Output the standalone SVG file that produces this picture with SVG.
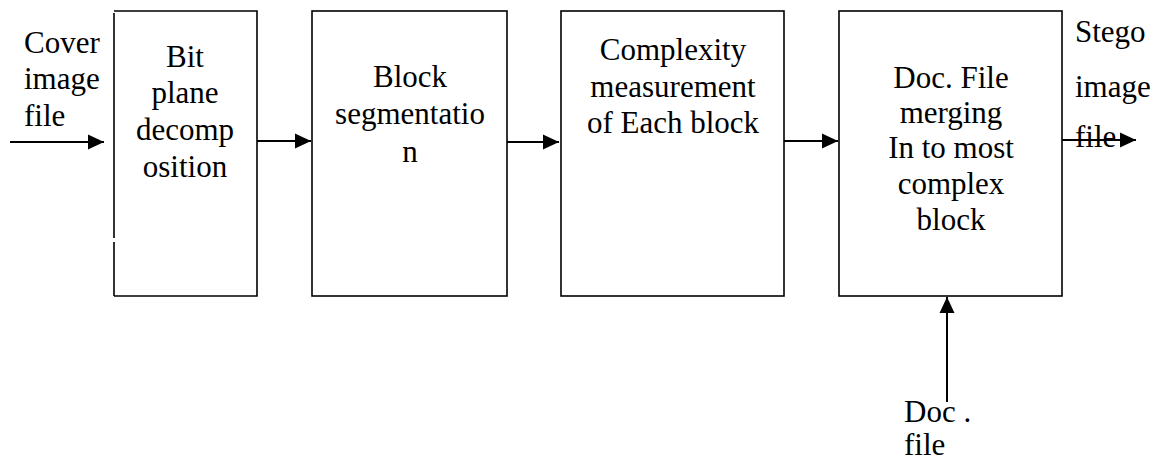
<svg xmlns="http://www.w3.org/2000/svg" width="1156" height="461" viewBox="0 0 1156 461">
  <style>
    .box { fill: #ffffff; stroke: #000000; stroke-width: 1.6; }
    .edge { fill: none; stroke: #000000; stroke-width: 2; }
    .c { text-anchor: middle; }
  </style>
  <defs>
    <marker id="arrow" markerUnits="userSpaceOnUse" markerWidth="16" markerHeight="16" viewBox="0 0 16 16" refX="16" refY="8" orient="auto">
      <path d="M0,0.5 L16,8 L0,15.5 Z" fill="#000000"/>
    </marker>
  </defs>

  <rect width="1156" height="461" fill="#ffffff"/>

  <g font-family="Liberation Serif, Times New Roman, Times, DejaVu Serif, serif" font-size="31" fill="#000000">
    <!-- Input label -->
    <g id="cover-label">
      <text x="24" y="53">Cover</text>
      <text x="24" y="89">image</text>
      <text x="24" y="126">file</text>
    </g>

    <!-- Step 1 (left edge has a small break near the bottom) -->
    <g id="bit-plane">
      <rect x="114" y="11" width="143" height="285" fill="#ffffff"/>
      <path class="edge" style="stroke-width:1.6" d="M114,11 H257 V296 H114 M114,296 V242 M114,238 V13"/>
      <text class="c" x="185" y="67">Bit</text>
      <text class="c" x="185" y="103">plane</text>
      <text class="c" x="185" y="140">decomp</text>
      <text class="c" x="185" y="177">osition</text>
    </g>

    <!-- Step 2 -->
    <g id="block-segmentation">
      <rect class="box" x="312" y="11" width="195" height="285"/>
      <text class="c" x="410" y="87">Block</text>
      <text class="c" x="410" y="124">segmentatio</text>
      <text class="c" x="410" y="162">n</text>
    </g>

    <!-- Step 3 -->
    <g id="complexity">
      <rect class="box" x="561" y="11" width="223" height="285"/>
      <text class="c" x="673" y="60">Complexity</text>
      <text class="c" x="673" y="97">measurement</text>
      <text class="c" x="673" y="133">of Each block</text>
    </g>

    <!-- Step 4 -->
    <g id="merging">
      <rect class="box" x="839" y="11" width="223" height="285"/>
      <text class="c" x="951" y="88">Doc. File</text>
      <text class="c" x="951" y="123">merging</text>
      <text class="c" x="951" y="158">In to most</text>
      <text class="c" x="951" y="194">complex</text>
      <text class="c" x="951" y="230">block</text>
    </g>

    <!-- Output label -->
    <g id="stego-label">
      <text x="1075" y="42">Stego</text>
      <text x="1075" y="97">image</text>
      <text x="1075" y="147">file</text>
    </g>

    <!-- Secondary input label -->
    <g id="doc-label">
      <text x="904" y="422">Doc .</text>
      <text x="904" y="455">file</text>
    </g>
  </g>

  <!-- Connectors -->
  <g id="connectors">
    <line class="edge" x1="10" y1="142" x2="104" y2="142" marker-end="url(#arrow)"/>
    <line class="edge" x1="257" y1="141" x2="311" y2="141" marker-end="url(#arrow)"/>
    <line class="edge" x1="507" y1="142" x2="559" y2="142" marker-end="url(#arrow)"/>
    <line class="edge" x1="784" y1="141" x2="838" y2="141" marker-end="url(#arrow)"/>
    <line class="edge" x1="1062" y1="140" x2="1136" y2="140" marker-end="url(#arrow)"/>
    <line class="edge" x1="947" y1="402" x2="947" y2="297" marker-end="url(#arrow)"/>
  </g>
</svg>
